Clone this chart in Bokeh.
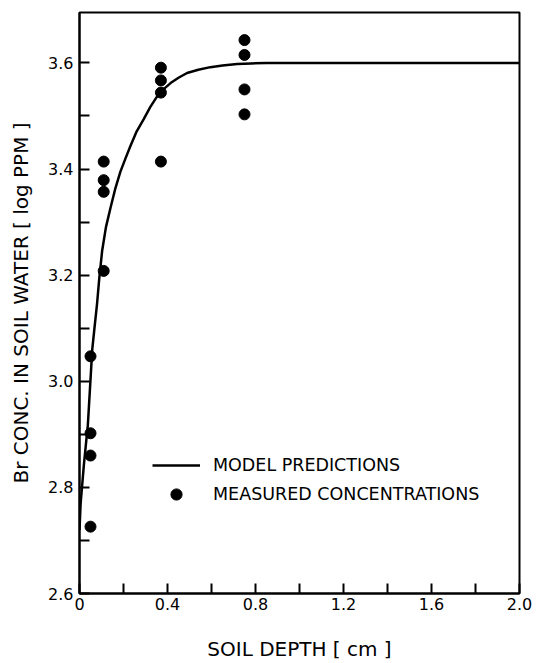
from bokeh.plotting import figure
from bokeh.models import Range1d, FixedTicker, Legend, LegendItem
from bokeh.embed import file_html
from bokeh.resources import INLINE

# Measured concentrations (soil depth cm, log PPM)
meas_depth = [0.05, 0.05, 0.05, 0.05,
              0.11, 0.11, 0.11, 0.11,
              0.37, 0.37, 0.37, 0.37,
              0.75, 0.75, 0.75, 0.75]
meas_conc = [3.047, 2.902, 2.860, 2.726,
             3.414, 3.379, 3.357, 3.208,
             3.591, 3.567, 3.544, 3.414,
             3.643, 3.615, 3.550, 3.503]

# Model predictions
model_depth = [0.0, 0.005, 0.02, 0.038, 0.058, 0.068, 0.08, 0.09, 0.103, 0.12, 0.141, 0.162,
               0.186, 0.21, 0.232, 0.26, 0.292, 0.322, 0.353, 0.384, 0.414, 0.45, 0.489,
               0.54, 0.595, 0.65, 0.717, 0.78, 0.85, 1.0, 1.5, 2.0]
model_conc = [2.72, 2.769, 2.843, 2.918, 3.06, 3.10, 3.147, 3.195, 3.246, 3.29, 3.327, 3.362,
              3.395, 3.421, 3.444, 3.471, 3.494, 3.517, 3.537, 3.551, 3.562, 3.572, 3.581,
              3.587, 3.592, 3.595, 3.598, 3.599, 3.6, 3.6, 3.6, 3.6]

x_ticks = [0.0, 0.4, 0.8, 1.2, 1.6, 2.0]
x_minor = [0.2, 0.6, 1.0, 1.4, 1.8]
x_tick_labels = ["0", "0.4", "0.8", "1.2", "1.6", "2.0"]
y_ticks = [2.6, 2.8, 3.0, 3.2, 3.4, 3.6]
y_minor = [2.7, 2.9, 3.1, 3.3, 3.5]
y_tick_labels = ["2.6", "2.8", "3.0", "3.2", "3.4", "3.6"]

FONT = "DejaVu Sans"

p = figure(width=537, height=663, output_backend="svg", toolbar_location=None,
           x_range=Range1d(0, 2.0), y_range=Range1d(2.6, 3.695),
           min_border_left=79, min_border_right=18, min_border_top=12, min_border_bottom=62)
p.grid.visible = False
p.outline_line_color = "black"
p.outline_line_width = 2
p.background_fill_color = "white"
p.border_fill_color = "white"

for ax in (p.xaxis[0], p.yaxis[0]):
    ax.axis_line_width = 2
    ax.axis_line_color = "black"
    ax.major_tick_in = 10
    ax.major_tick_out = 0
    ax.minor_tick_in = 10
    ax.minor_tick_out = 0
    ax.major_tick_line_width = 2
    ax.minor_tick_line_width = 2
    ax.major_label_text_font = FONT
    ax.major_label_text_font_size = "16px"
    ax.major_label_text_color = "black"
    ax.axis_label_text_font = FONT
    ax.axis_label_text_font_size = "20px"
    ax.axis_label_text_font_style = "normal"
    ax.axis_label_text_color = "black"

p.xaxis[0].ticker = FixedTicker(ticks=x_ticks, minor_ticks=x_minor)
p.xaxis[0].major_label_overrides = {t: l for t, l in zip(x_ticks, x_tick_labels)}
p.xaxis[0].major_label_standoff = 4
p.xaxis[0].axis_label = "SOIL DEPTH [ cm ]"
p.xaxis[0].axis_label_standoff = 24

p.yaxis[0].ticker = FixedTicker(ticks=y_ticks, minor_ticks=y_minor)
p.yaxis[0].major_label_overrides = {t: l for t, l in zip(y_ticks, y_tick_labels)}
p.yaxis[0].major_label_standoff = 6
p.yaxis[0].axis_label = "Br CONC. IN SOIL WATER [ log PPM ]"
p.yaxis[0].axis_label_standoff = 12

line_r = p.line(model_depth, model_conc, line_color="black", line_width=2.5)
pts_r = p.scatter(meas_depth, meas_conc, size=11, fill_color="black", line_color="black")

legend = Legend(items=[LegendItem(label="MODEL PREDICTIONS", renderers=[line_r]),
                       LegendItem(label="MEASURED CONCENTRATIONS", renderers=[pts_r])],
                location=(73, 85), glyph_width=48, glyph_height=28, label_height=28,
                spacing=1, padding=0, margin=0, label_standoff=13,
                label_text_font=FONT, label_text_font_size="17.5px",
                label_text_color="black",
                background_fill_alpha=0, border_line_alpha=0)
p.add_layout(legend)

open("out.html", "w").write(file_html(p, INLINE))
